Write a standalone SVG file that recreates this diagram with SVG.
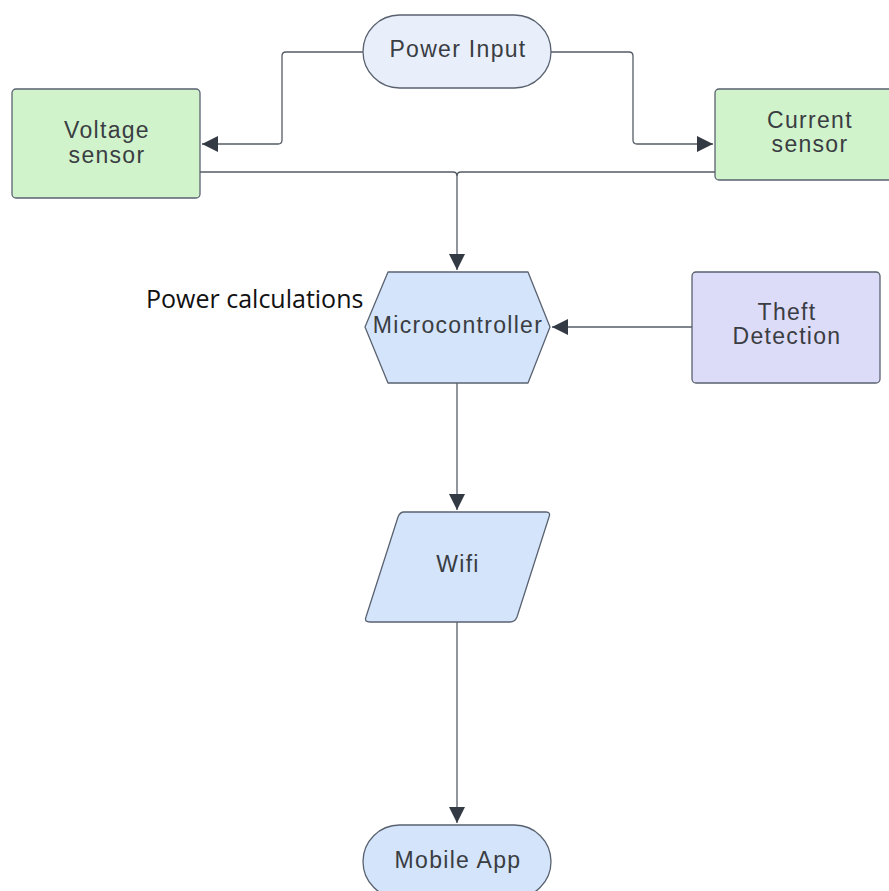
<svg xmlns="http://www.w3.org/2000/svg" width="889" height="891" viewBox="0 0 889 891">
<defs>
<marker id="ah" viewBox="0 0 10 10" refX="10" refY="5" markerWidth="16" markerHeight="16" markerUnits="userSpaceOnUse" orient="auto">
<path d="M0,0 L10,5 L0,10 z" fill="#333a44"/>
</marker>
<style>
.lbl{font-family:"Liberation Sans",Arial,sans-serif;font-size:23px;letter-spacing:1.3px;fill:#3a3d42;text-anchor:middle}
.shape{stroke:#5a6270;stroke-width:1.3}
.blue{fill:#d3e4fb}
.green{fill:#d1f3cc}
.purple{fill:#dcdbf8}
.pale{fill:#e8effb}
.con{fill:none;stroke:#555c66;stroke-width:1.3}
</style>
</defs>
<rect width="889" height="891" fill="#fff"/>
<g id="connectors">
<path class="con" d="M363,52 H286 Q282,52 282,56 V140 Q282,144 278,144 H202" marker-end="url(#ah)"/>
<path class="con" d="M551,52 H629 Q633,52 633,56 V140 Q633,144 637,144 H713" marker-end="url(#ah)"/>
<path class="con" d="M200,172 H453 Q457,172 457,176"/>
<path class="con" d="M715,172 H461 Q457,172 457,176 V270" marker-end="url(#ah)"/>
<path class="con" d="M692,327 H552" marker-end="url(#ah)"/>
<path class="con" d="M457,383 V510" marker-end="url(#ah)"/>
<path class="con" d="M457,622 V823" marker-end="url(#ah)"/>
</g>
<g id="power-input">
<rect class="shape pale" x="363" y="15" width="188" height="73" rx="36.5"/>
<text class="lbl" x="458" y="57">Power Input</text>
</g>
<g id="voltage-sensor">
<rect class="shape green" x="12" y="89" width="188" height="109" rx="4"/>
<text class="lbl" x="107" y="138">Voltage</text>
<text class="lbl" x="107" y="163">sensor</text>
</g>
<g id="current-sensor">
<rect class="shape green" x="715" y="89" width="188" height="91" rx="4"/>
<text class="lbl" x="810" y="128">Current</text>
<text class="lbl" x="810" y="152">sensor</text>
</g>
<g id="microcontroller">
<path class="shape blue" d="M388,272 H528 L550,327 L528,383 H388 L365,327 Z" stroke-linejoin="round"/>
<text class="lbl" x="458" y="333">Microcontroller</text>
</g>
<text x="146" y="308" font-family="'Open Sans','Liberation Sans',sans-serif" font-size="25" fill="#111">Power calculations</text>
<g id="theft-detection">
<rect class="shape purple" x="692" y="272" width="188" height="111" rx="4"/>
<text class="lbl" x="787" y="320">Theft</text>
<text class="lbl" x="787" y="344">Detection</text>
</g>
<g id="wifi">
<path class="shape blue" d="M404,512 H546 Q551,512 549,517 L517,617 Q515,622 510,622 H370 Q364,622 366,617 L398,517 Q400,512 404,512 Z"/>
<text class="lbl" x="458" y="572">Wifi</text>
</g>
<g id="mobile-app">
<rect class="shape blue" x="363" y="825" width="188" height="73" rx="36.5"/>
<text class="lbl" x="458" y="868">Mobile App</text>
</g>
</svg>
